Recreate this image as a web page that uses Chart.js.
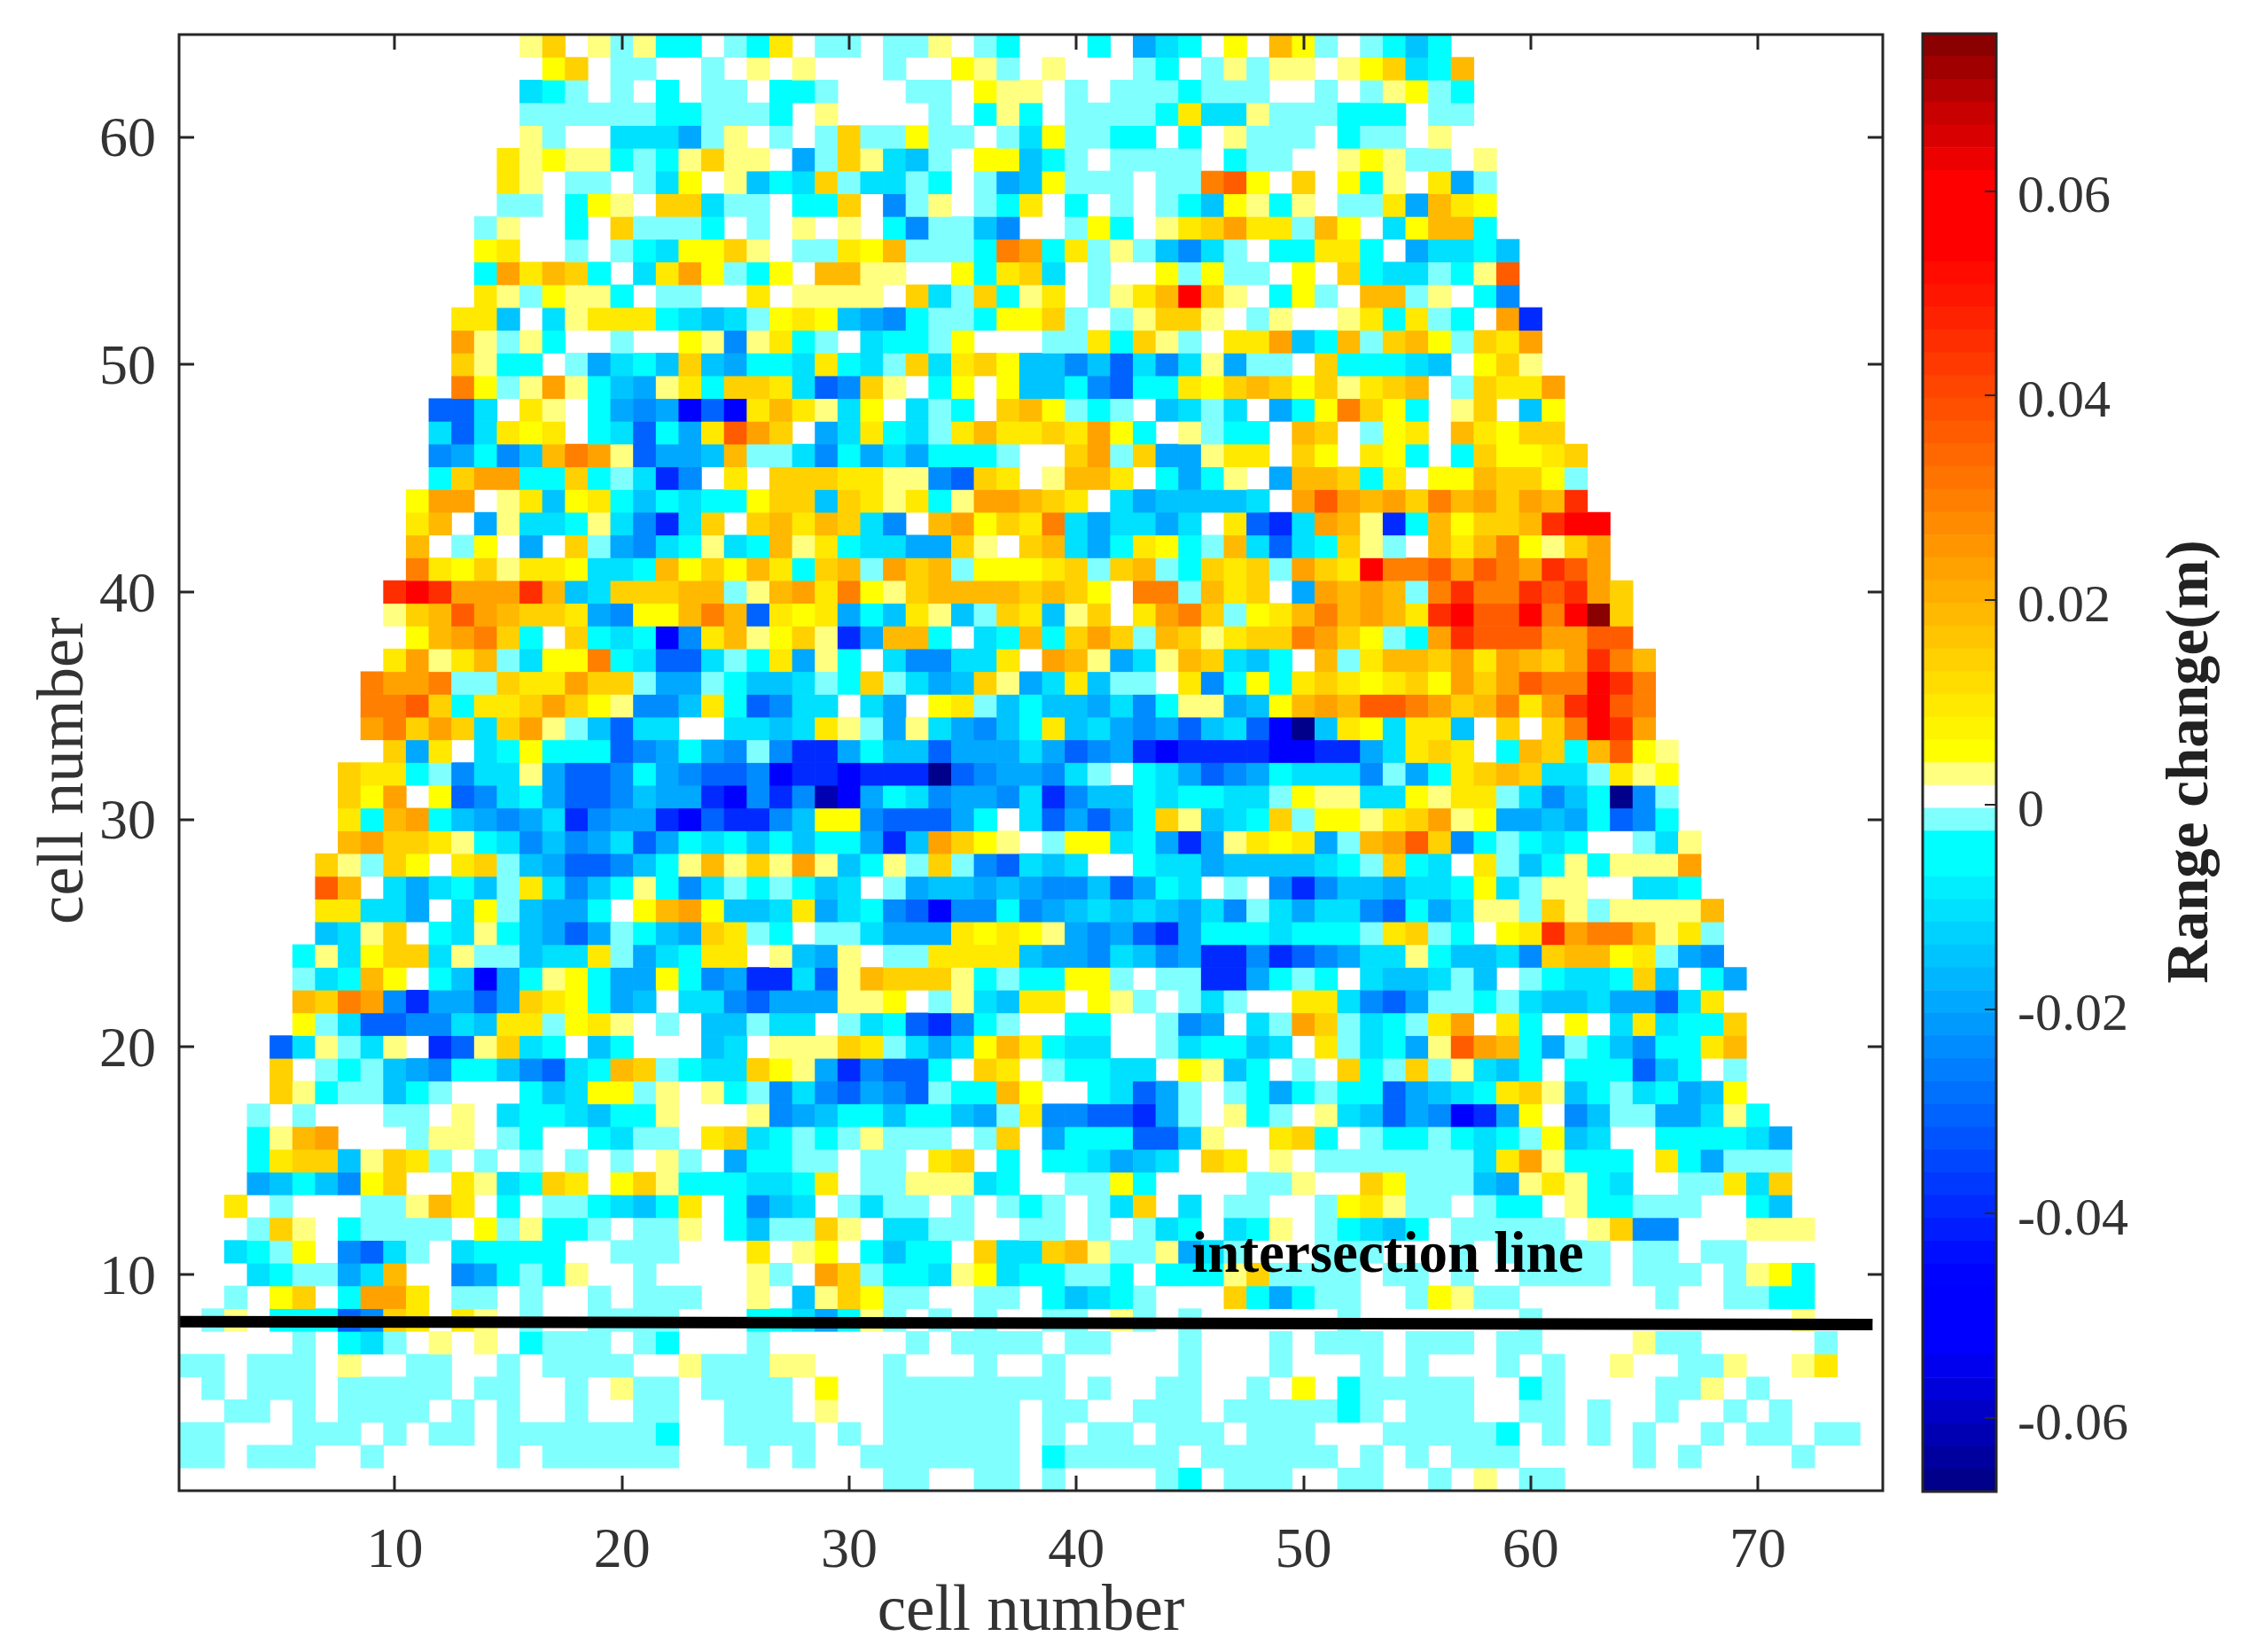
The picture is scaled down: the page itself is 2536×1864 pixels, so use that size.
<!DOCTYPE html>
<html>
<head>
<meta charset="utf-8">
<title>Range change</title>
<script src="https://cdn.jsdelivr.net/npm/chart.js@4"></script>
<style>
html, body { margin: 0; background: #fff; }
canvas { position: absolute; top: 0; }
#mapChart { left: 0; }
#barChart { left: 2140px; }
</style>
</head>
<body>
<canvas id="mapChart" width="2140" height="1864"></canvas>
<canvas id="barChart" width="396" height="1864"></canvas>
<script>
// tick labels
const xTicks = [10, 20, 30, 40, 50, 60, 70];
const yTicks = [10, 20, 30, 40, 50, 60];
const barTicks = [-0.06, -0.04, -0.02, 0, 0.02, 0.04, 0.06];

// range change: one letter per cell, '.' = white
const levelCodes = ['k', 'l', 'j', 'i', 'h', 'g', 'f', 'e', 'd', 'c', 'p', 'y', 'Y', 'a', 'b', 'o', 'O', 'm', 'M', 'r', 'R', 'X'];
const levelValues = [-0.0661, -0.0616, -0.0483, -0.0394, -0.0304, -0.0238, -0.0193, -0.0148, -0.0104, -0.0059, -0.0015,
    0.0030, 0.0052, 0.0097, 0.0141, 0.0186, 0.0230, 0.0297, 0.0364, 0.0453, 0.0565, 0.0743];

// rows from cell number 64 down to 1, each starts at the column in rowStart
const rowStart = [16, 16, 16, 16, 16, 15, 15, 15, 14, 14, 14, 14, 13, 13, 13, 13,
    12, 12, 12, 12, 11, 11, 11, 11, 10, 10, 11, 10, 9, 9, 9, 10,
    8, 8, 8, 8, 7, 7, 7, 7, 6, 6, 6, 6, 5, 5, 5, 4,
    4, 4, 4, 3, 4, 3, 4, 3, 2, 6, 1, 1, 1, 1, 1, 32];
const rowCells = [
    'yb.ypycc.pca.pp.ppy.pc...c.fdc.Y.oYp.pcec',
    '.Yb.pp..p.y.y...p..Yyp.y...pc.pypyy.yYbdco',
    'dcp.p.c.pp.ccp...pp.Yyy.p.pppcppp..p.pyYpc',
    'ppppppccpppc.y....p.cyc.ppppcaddypppccc.pp',
    'yp..dddfpy.p.pbppYpp.pdYppcc.c.yppp.cpp.y',
    'ayYyycpcybyy.fpbydep.YYecp.pppp.cpp..yYypp.y',
    'ay.pp.pdY.yecdbpddpc.pfeYppp.ppmMY.b.Ycy.afp',
    'pp.cYy.bbdpp.ccb.gpy.pca.c.p.pceYycy.ppafoaY',
    'py..c.bpppc.p.y.y.cgppeg..pYc.yabOaapoY.dYooc',
    'Ya..p.pcdYYby.ppaYopppcmOcapypegdp.ccaac.fddce',
    'cOaobc.daOYpcY.ooyy..Ycabd.p..YpYpp.Y.bcddpcyM',
    'aypYyyc.pp..a.yyyy.bdpbcya.pyaoRby.cYp.oopy.cg',
    'aae.dyaaacdedpYaYefgcppcYYbp.pybby.py..yacapc.Oi',
    'Oypyc..p..Yygyacp.dccpY...ppacbyp.aaOecopboYpbaO',
    'bycc.pfdcebefccdacdpbdabYeegehdgdyfpp.bcccde.Yby',
    'mYpyOycefyacbbadhgby.cY.YeecghccaYbobYbyabo.pbaaO',
    'hhd.ay.cfgfjhjaoaydY.dpc.boYpcp.edpd.fcYmbYc.yb.eY',
    'dhdaYa.cdhcfaMOb.fdacdpaoaabaOYc.ypcc.ob.pYa.oaYbb',
    'gfcgeomOyhffeoppdgcfdfcccp..bOpbffyaa.bY.aYc.cbYYab',
    'cbOOccbcpdig.a.bbbaayyghba.yooa.cfcy.foobca.YYobbYp',
    'YOO.yaeYacecdccYbbebayacyOOoba.dfeeeed.OMOoObmoObOor',
    'ao.fyddcydgidb.boaobdg.oOYbamdfddfd.ahidOoyicoYbborRR',
    'o.pY.f.bpfgdcydcoyacddffby.bodfcaYcpodhdcbyp.oaomYybO',
    'maYbyaaYddcoYbYoacbopObopYYYabpbopcbabpObaRmmMOMmOrMO',
    'rRrOOOroedbbboopyoOamYyboooobobY.mmpoab.fOoOopmrmmrMrOb',
    'yboMOobbafgYYomohaYafceayepbaeyb.aOmbpYaomoOoarRMMRmRXb',
    'YoOmbc.bcdcjgaoyYbyifooc.dcocbObpobyabbmObYpcOrMMMOOMM',
    'aOyaopdYYmcdhhdpcafyc.dggdda.Ooyfdyobdec.opaoobOaOobOrmo',
    'mOOmppbaaObbpffpceedpcbpdfebyfdaepp.agcYcabaYabYObOMmmRrm',
    'mmMbcaabObYyggeachgdd.df.YapeceefdgcyyfeYoOoMMmObomaOrRMm',
    'OmbObdbOypehdd..ddedaypfydfgecaedfgfhedhjkeaYdaae.b.bmRrO',
    'bfa.dcYccchgfcfgpgiifceehfffdfhgfijiiiijjiifdaba.cobcoMYy',
    'baacpgddyfhhgcfghhgjiijiiikhgffgdp.cdfhgfcdddgpfcabobddpayY',
    'bYO.YhgdcfhhgeffijgigljfcdgffgdigeecdccddpYyyddYyaapdgeckgp',
    'acoOcefgfdigffijhiigeYYghhhfc.dhfhfcbyedcbpYYyabOyYffefchgc',
    'oObbaycdgegfdhfcdcececcfieObYy.pYYdcfifyaYafpoOMbgcpcdc..pdy',
    'bypbY.abpefhhgecyoybyOyecypbpghded..cddfeeeedcpbcd.apecycyyyO',
    'Mo.dfdcepadgecycgdpcpced.pfeefefggehfcd.p.gigeefddcYdpyy..ddc',
    'aaddf.dYpeffc.YoOYeedafdcghjggcgfededefdgpdfddghcfdyypbypyyyyo',
    'edyb.cdycefhfpcefbapc.ppdfffaYaYyfgfhifcccdcccpabpc.YarOmmoyap',
    'cydYbbdyppeddapfdcaa.yefy.ppaaaaeffgdegfiigihgfddyceedgbooYapfg',
    'pdcoY.cejfcyYcffYcgfiidhyobbbycpccYYp.ppiifcpc.deedpe.pcddcbe.cf',
    'obmOgiffhfbaYcfe.ddghfffyyY.pydeaa.Yyp.pdp..aadghfppcpdeedffhda',
    'YpdhhggdeaapYay.p.eepdd.pdchigcp..cc..pgf.dpObpdcpaO.ac.Y.dadccb',
    'hdypdy.ihybdc.ec...ed.yyybapdfdYoacdd..pdcced.apdcfyMOocfpcegccao',
    'b.pcpefgcceghdcobpcddbYyfighhc.ba.pccdd.Yyec.p.bcpbpydec.ccchec.p',
    'bycppecp...cedYYpy.ycpgdghfghpccoY..cdhfp.pcfcpcchfedcabyecpdcfeY',
    'p.p...pp.y.dccdeccy...ygfecceccefpagghhifp.ycp.ydehfgjifY.geppffdyc',
    'cyoO...pyy.pc..cdpp.abdcpcpyppp.pb.fccchhey..abc.pccpcdcpYed..ccccdf',
    'cabbeybap.p.p.p.p.yp.fccpp.pp.ab.c.ccdfed.ba.y.pppppppdaOyccc.acfppp',
    'fecegYb..aydcba.Ybycccddca.ppyyydc..ppYc....ppy..bYpppefyaycd..ppadb',
    'a.p...ppyoa.c.ppcdeca.cged.pdpp.p.pcp.pdb.d.pp..pYaypp.pcc.yccppp..ce',
    'pby.cpppp.Ypyccp.ppy.ceppby.ddpp..pp.p.pdc.dcy.pcdec.ppppp.ybgg...yyy',
    'dcpY.ghdp.dcccc..ppp...a.yY.cecc.bddboyppyfdp...ppp...p.ppppp.pp.pp',
    'dcppfdo..gfcpcy..p....yp.ObpccdyYdccppc.cccybpppp.pp.p..pppp.ppp.pyYc',
    'p.Yb.cOOa.pp.p..p.ppp..y.eybYpp..pp.cedcp...bcfcpp..pYypp......p..ppcc',
    'py.ccchgba.ay.p..pppp...ccdfcyp.p.p..pp.yp.p......p.......p...........y',
    'p.cdp.y.y.cppp.pc...p......p.pppp.pp...p...p.ppp.ppp.pp....ypp.....p',
    'pp.ppp.y..pp..p.pppp..ypppyy...p...p..p.....p...p...p.p...p.p..y..ppy..ya',
    '.p.ppp.ppppp.pp..p.ypp.pppp.Y..pppppppp.p..pp..p.Y.cppppp..cp....ppy.p',
    '..pp.p.pppp.p.p..p..pp..ppp.y..pppppp.pp..ppp.pppppcp.ppp..pp.p..p..p.p',
    'pp...ppp.p.pp.pppppppc..pppp.p.pppppp.p.pp.ppp.ppp...pppppc.p.p.p..p.pp.pp',
    'pp.ppp..p.....p.pppppp...p.p..ppppppp.cppppp.pppppp.p.p.ppp.....p.p....p',
    'pp..pp.p....pc.ppp..pp..p.y.pp'
];

// the black line and its label
const lineX = [0.5, 75.05];
const lineY = [7.93, 7.80];
const lineLabel = 'intersection line';
const lineLabelX = 53.7;
const lineLabelY = 10.77;

// colour bar, bottom band first
const barMin = -0.0672;
const barMax = 0.0754;
const barColors = [
    '#00008b', '#00009f', '#0000b3', '#0000c7', '#0000db', '#0000ef', '#0000ff', '#0000ff', '#0000ff', '#0004ff',
    '#000eff', '#001cff', '#002aff', '#0038ff', '#0046ff', '#0054ff', '#0062ff', '#0070ff', '#007eff', '#008cff',
    '#009aff', '#00a8ff', '#00b6ff', '#00c4ff', '#00d2ff', '#00e0ff', '#00eeff', '#00ffff', '#00ffff', '#80ffff',
    '#ffffff', '#ffff80', '#ffff00', '#fff400', '#ffe900', '#ffdd00', '#ffd100', '#ffc500', '#ffb900', '#ffae00',
    '#ffa200', '#ff9600', '#ff8b00', '#ff7f00', '#ff7300', '#ff6800', '#ff5c00', '#ff5000', '#ff4500', '#ff3900',
    '#ff2e00', '#ff2200', '#ff1600', '#ff0b00', '#ff0000', '#ff0000', '#ff0000', '#ff0000', '#ec0000', '#d80000',
    '#c80000', '#b40000', '#a00000', '#8b0000'
];

const textColor = '#333333';
const frameColor = '#262626';
const serif = "'Liberation Serif', serif";
const bandSize = (barMax - barMin) / barColors.length;

function colorOf(value) {
    const band = Math.floor((value - barMin) / bandSize);
    return barColors[Math.max(0, Math.min(barColors.length - 1, band))];
}

// one bar dataset per row, each cell is a floating bar one unit high
function rowDatasets() {
    return rowCells.map((cells, i) => {
        const row = 64 - i;
        const data = [];
        const colors = [];
        cells.split('').forEach((code, j) => {
            const level = levelCodes.indexOf(code);
            if (level < 0) return;
            data.push({x: rowStart[i] + j, y: [row - 0.5, row + 0.5]});
            colors.push(colorOf(levelValues[level]));
        });
        return {
            type: 'bar',
            data: data,
            backgroundColor: colors,
            borderWidth: 0,
            barPercentage: 1,
            categoryPercentage: 1,
            grouped: false,
            order: 2
        };
    });
}

const mapFrame = {
    id: 'mapFrame',
    afterDatasetsDraw(chart) {
        const {ctx, chartArea: a, scales} = chart;
        ctx.save();
        ctx.strokeStyle = frameColor;
        ctx.lineWidth = 3;
        ctx.beginPath();
        xTicks.forEach(v => {
            const px = Math.round(scales.x.getPixelForValue(v));
            ctx.moveTo(px, a.top); ctx.lineTo(px, a.top + 17);
            ctx.moveTo(px, a.bottom); ctx.lineTo(px, a.bottom - 17);
        });
        yTicks.forEach(v => {
            const py = Math.round(scales.y.getPixelForValue(v));
            ctx.moveTo(a.left, py); ctx.lineTo(a.left + 17, py);
            ctx.moveTo(a.right, py); ctx.lineTo(a.right - 17, py);
        });
        ctx.stroke();
        ctx.strokeRect(a.left, a.top, a.right - a.left, a.bottom - a.top);
        ctx.fillStyle = '#000';
        ctx.font = 'bold 65px ' + serif;
        ctx.textAlign = 'center';
        ctx.textBaseline = 'middle';
        ctx.fillText(lineLabel, scales.x.getPixelForValue(lineLabelX), scales.y.getPixelForValue(lineLabelY));
        ctx.restore();
    }
};

const barFrame = {
    id: 'barFrame',
    afterDatasetsDraw(chart) {
        const {ctx, chartArea: a, scales} = chart;
        ctx.save();
        ctx.strokeStyle = frameColor;
        ctx.lineWidth = 2;
        ctx.beginPath();
        barTicks.forEach(v => {
            const py = Math.round(scales.y.getPixelForValue(v));
            ctx.moveTo(a.right, py); ctx.lineTo(a.right - 13, py);
        });
        ctx.stroke();
        ctx.lineWidth = 3;
        ctx.strokeRect(a.left, a.top, a.right - a.left, a.bottom - a.top);
        // right axis title reads upwards here, chart.js would turn it the other way
        ctx.translate(333, (a.top + a.bottom) / 2 - 1);
        ctx.rotate(-Math.PI / 2);
        ctx.fillStyle = '#222';
        ctx.font = 'bold 67px ' + serif;
        ctx.textAlign = 'center';
        ctx.textBaseline = 'middle';
        ctx.fillText('Range change(m)', 0, 0);
        ctx.restore();
    }
};

new Chart(document.getElementById('mapChart'), {
    data: {
        datasets: rowDatasets().concat([{
            type: 'line',
            data: lineX.map((x, i) => ({x: x, y: lineY[i]})),
            borderColor: '#000',
            borderWidth: 13,
            pointRadius: 0,
            order: 1
        }])
    },
    plugins: [mapFrame],
    options: {
        responsive: false,
        animation: false,
        events: [],
        layout: {padding: {top: 39, right: 16}},
        plugins: {legend: {display: false}, tooltip: {enabled: false}},
        scales: {
            x: {
                type: 'linear',
                offset: false,
                min: 0.5,
                max: 75.5,
                grid: {display: false},
                border: {display: false},
                afterBuildTicks: scale => { scale.ticks = xTicks.map(v => ({value: v})); },
                afterFit: scale => { scale.height = 182; scale.paddingLeft = 0; scale.paddingRight = 0; },
                ticks: {color: textColor, padding: 23, maxRotation: 0, font: {family: serif, size: 64}},
                title: {display: true, text: 'cell number', color: textColor, padding: {top: 0, bottom: 8},
                    font: {family: serif, size: 73, lineHeight: 1}}
            },
            y: {
                type: 'linear',
                min: 0.5,
                max: 64.5,
                grid: {display: false},
                border: {display: false},
                afterBuildTicks: scale => { scale.ticks = yTicks.map(v => ({value: v})); },
                afterFit: scale => { scale.width = 202; scale.paddingTop = 0; scale.paddingBottom = 0; },
                ticks: {color: textColor, padding: 18, labelOffset: 5, font: {family: serif, size: 64}},
                title: {display: true, text: 'cell number ', color: textColor, padding: {top: 37, bottom: 0},
                    font: {family: serif, size: 73, lineHeight: 1}}
            }
        }
    }
});

new Chart(document.getElementById('barChart'), {
    data: {
        labels: [''],
        datasets: barColors.map((color, k) => ({
            type: 'bar',
            data: [[barMin + k * bandSize, barMin + (k + 1) * bandSize]],
            backgroundColor: color,
            borderWidth: 0,
            barPercentage: 1,
            categoryPercentage: 1,
            grouped: false
        }))
    },
    plugins: [barFrame],
    options: {
        responsive: false,
        animation: false,
        events: [],
        layout: {padding: {top: 38, bottom: 181, left: 29}},
        plugins: {legend: {display: false}, tooltip: {enabled: false}},
        scales: {
            x: {display: false},
            y: {
                position: 'right',
                min: barMin,
                max: barMax,
                grid: {display: false},
                border: {display: false},
                afterBuildTicks: scale => { scale.ticks = barTicks.map(v => ({value: v})); },
                afterFit: scale => { scale.width = 284; scale.paddingTop = 0; scale.paddingBottom = 0; },
                ticks: {
                    color: textColor,
                    padding: 16,
                    labelOffset: 8,
                    font: {family: serif, size: 60},
                    callback: v => String(v)
                }
            }
        }
    }
});
</script>
</body>
</html>
